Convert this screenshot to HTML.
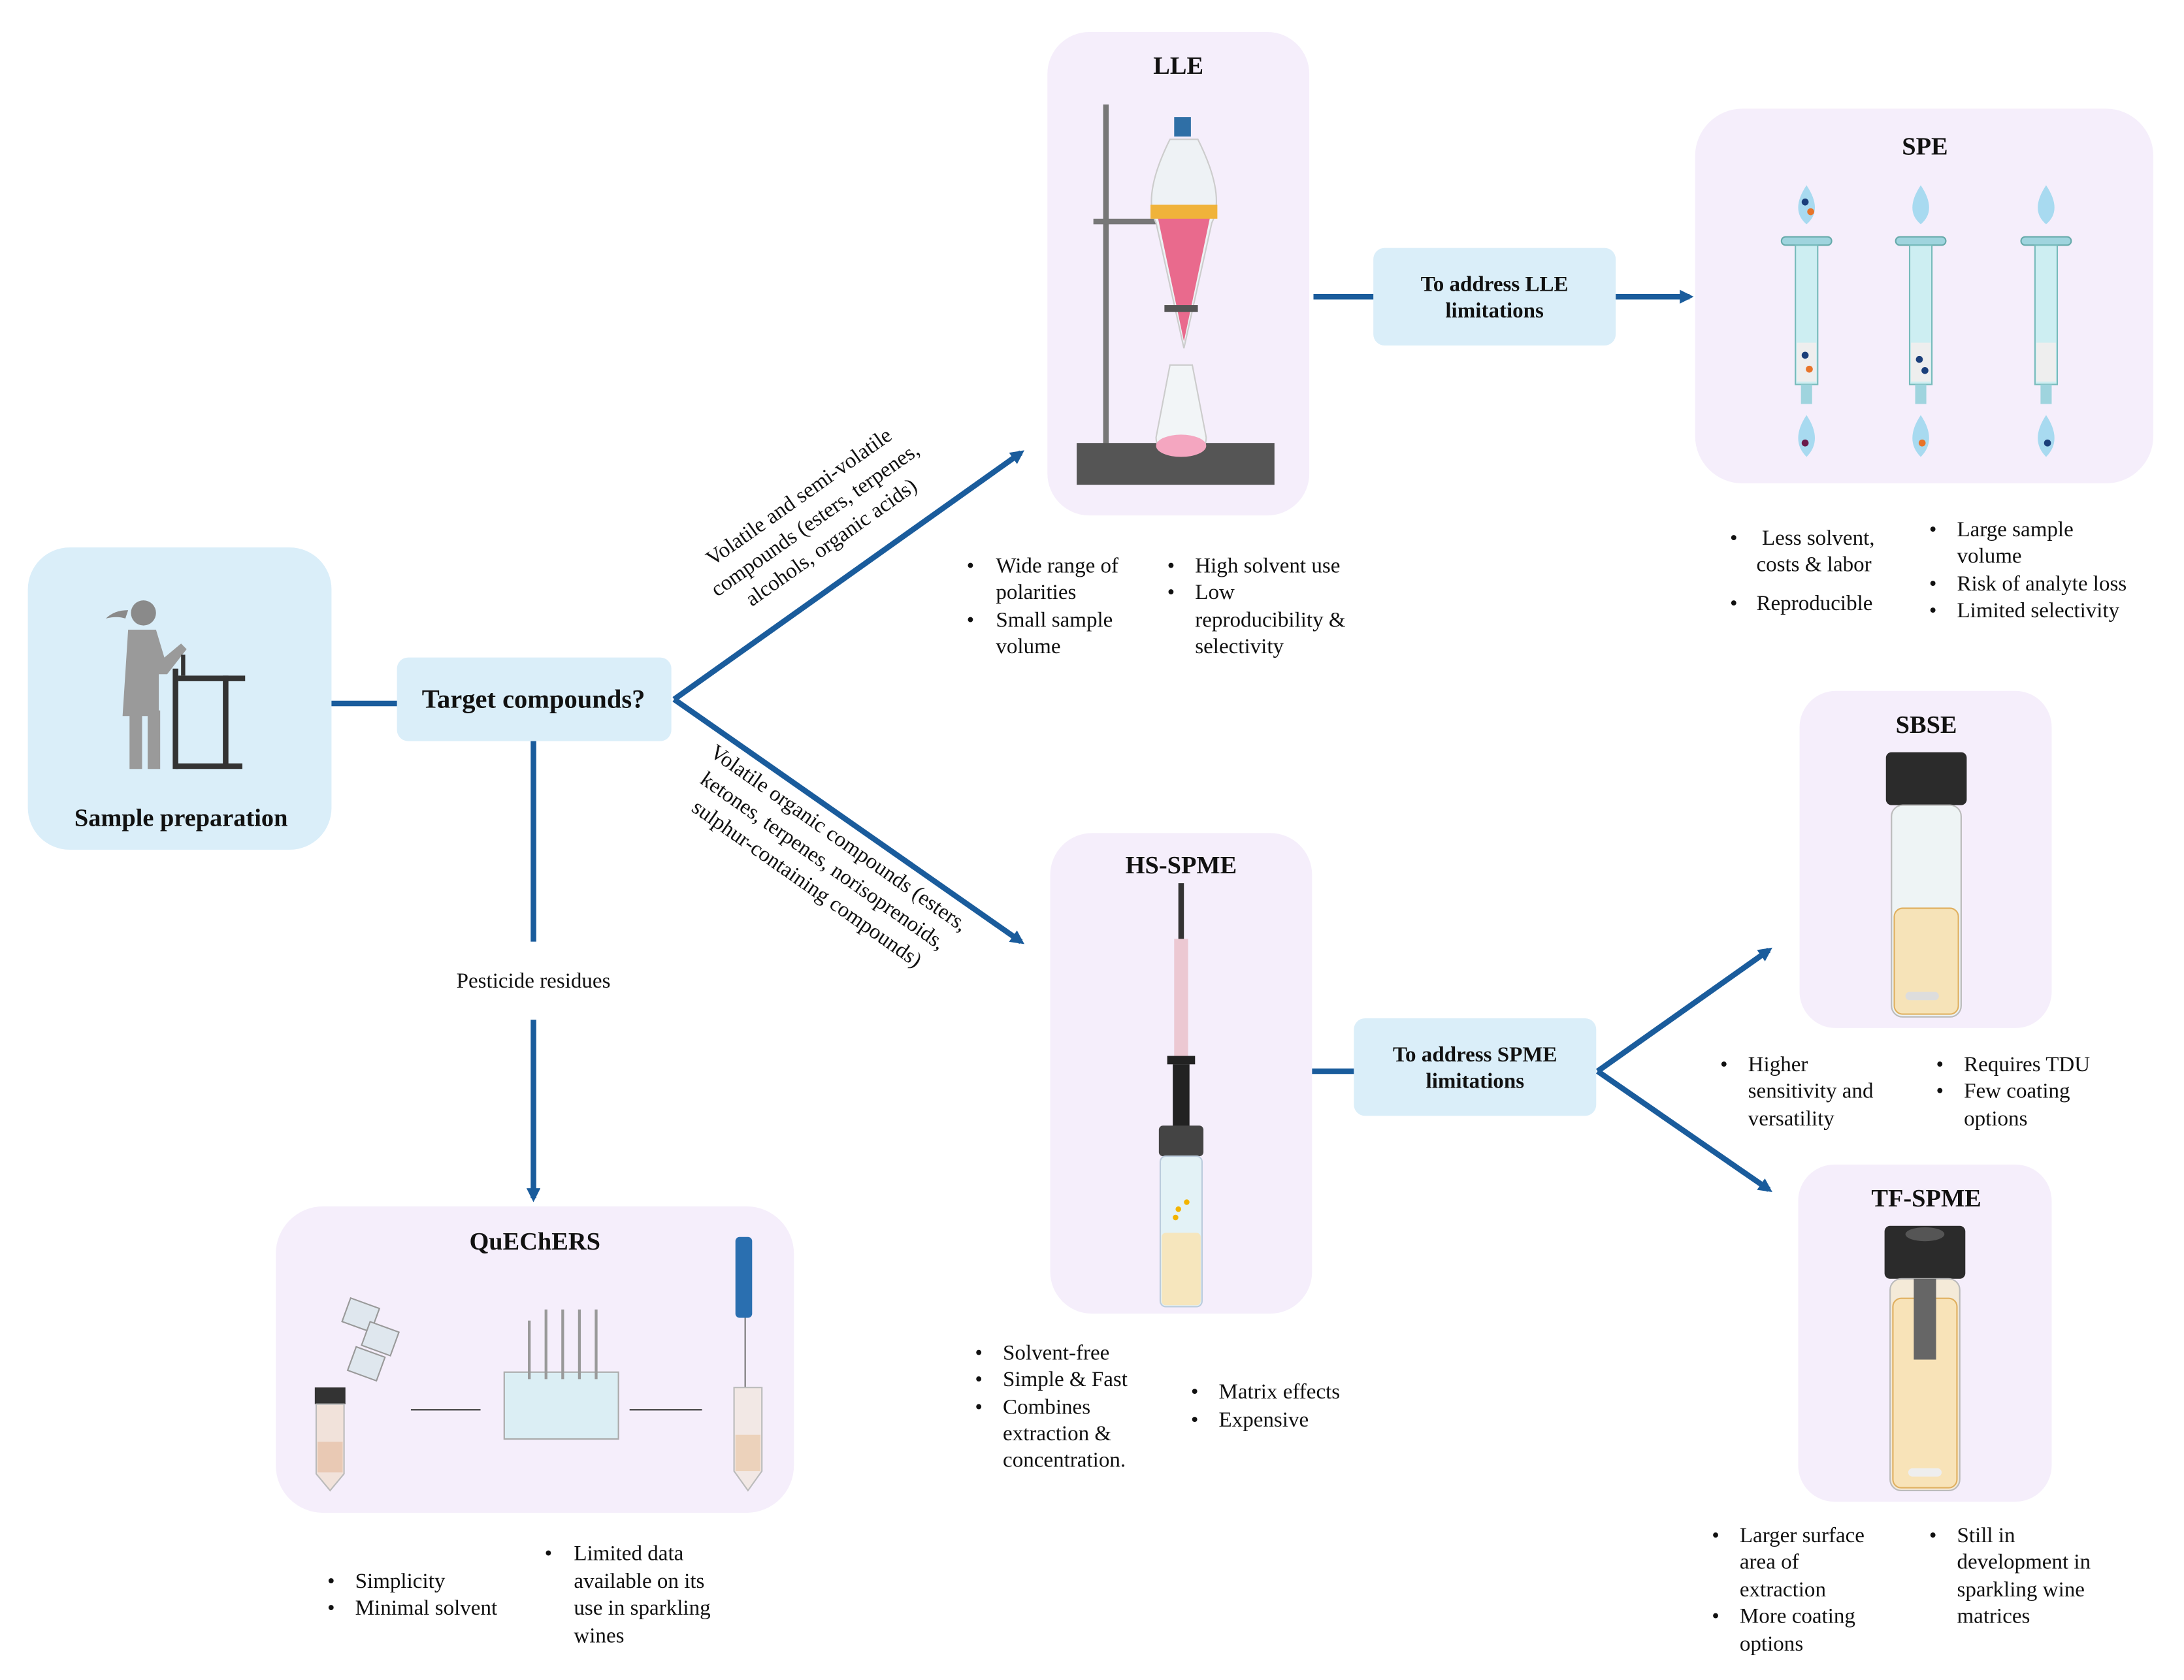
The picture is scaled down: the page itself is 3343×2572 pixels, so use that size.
<!DOCTYPE html>
<html><head><meta charset="utf-8"><style>
html,body{margin:0;padding:0;background:#fff}
svg{display:block}
text{font-family:"Liberation Serif",serif;fill:#111}
.b{font-weight:bold}
.t{font-size:15.5px}
</style></head><body>
<svg width="3343" height="2572" viewBox="0 0 1568 1206" preserveAspectRatio="none" xmlns="http://www.w3.org/2000/svg">
<defs>
<marker id="ar" markerWidth="10" markerHeight="10" refX="7" refY="5" orient="auto" markerUnits="userSpaceOnUse">
<path d="M0,0 L10,5 L0,10 z" fill="#1a5c9c"/></marker>
</defs>
<rect width="1600" height="1230" fill="#fff"/>
<rect x="20" y="393" width="218" height="217" rx="30" fill="#daeef9"/>
<rect x="285" y="472" width="197" height="60" rx="8" fill="#daeef9"/>
<rect x="752" y="23" width="188" height="347" rx="30" fill="#f5eefb"/>
<rect x="986" y="178" width="174" height="70" rx="8" fill="#daeef9"/>
<rect x="1217" y="78" width="329" height="269" rx="34" fill="#f5eefb"/>
<rect x="754" y="598" width="188" height="345" rx="30" fill="#f5eefb"/>
<rect x="972" y="731" width="174" height="70" rx="8" fill="#daeef9"/>
<rect x="1292" y="496" width="181" height="242" rx="26" fill="#f5eefb"/>
<rect x="1291" y="836" width="182" height="242" rx="26" fill="#f5eefb"/>
<rect x="198" y="866" width="372" height="220" rx="34" fill="#f5eefb"/>
<g stroke="#1a5c9c" stroke-width="4" fill="none">
<line x1="238" y1="505" x2="285" y2="505"/>
<line x1="484" y1="502" x2="733" y2="325" marker-end="url(#ar)"/>
<line x1="484" y1="502" x2="733" y2="676" marker-end="url(#ar)"/>
<line x1="383" y1="532" x2="383" y2="676"/>
<line x1="383" y1="732" x2="383" y2="860" marker-end="url(#ar)"/>
<line x1="943" y1="213" x2="986" y2="213"/>
<line x1="1160" y1="213" x2="1213" y2="213" marker-end="url(#ar)"/>
<line x1="942" y1="769" x2="972" y2="769"/>
<line x1="1147" y1="769" x2="1270" y2="682" marker-end="url(#ar)"/>
<line x1="1147" y1="769" x2="1270" y2="854" marker-end="url(#ar)"/>
</g>
<g class="b" font-size="18" text-anchor="middle">
<text x="130" y="593">Sample preparation</text>
<text x="383" y="508" font-size="19">Target compounds?</text>
<text x="846" y="53">LLE</text>
<text x="1382" y="111">SPE</text>
<text x="848" y="627">HS-SPME</text>
<text x="1383" y="526">SBSE</text>
<text x="1383" y="866">TF-SPME</text>
<text x="384" y="897">QuEChERS</text>
<text x="1073" y="209" font-size="15.5">To address LLE</text>
<text x="1073" y="228" font-size="15.5">limitations</text>
<text x="1059" y="762" font-size="15.5">To address SPME</text>
<text x="1059" y="781" font-size="15.5">limitations</text>
</g>
<text x="383" y="709" class="t" text-anchor="middle">Pesticide residues</text>
<g transform="translate(588,377) rotate(-35.3)" text-anchor="middle" class="t">
<text x="0" y="-20">Volatile and semi-volatile</text>
<text x="0" y="0">compounds (esters, terpenes,</text>
<text x="0" y="20">alcohols, organic acids)</text>
</g>
<g transform="translate(588,622) rotate(35)" text-anchor="middle" class="t">
<text x="0" y="-20">Volatile organic compounds (esters,</text>
<text x="0" y="0">ketones, terpenes, norisoprenoids,</text>
<text x="0" y="20">sulphur-containing compounds)</text>
</g>
<g class="t">
<text x="694" y="411">•</text><text x="715" y="411">Wide range of</text><text x="715" y="430">polarities</text>
<text x="694" y="450">•</text><text x="715" y="450">Small sample</text><text x="715" y="469">volume</text>
<text x="838" y="411">•</text><text x="858" y="411">High solvent use</text>
<text x="838" y="430">•</text><text x="858" y="430">Low</text><text x="858" y="450">reproducibility &amp;</text><text x="858" y="469">selectivity</text>
<text x="1242" y="391">•</text><text x="1265" y="391">Less solvent,</text><text x="1261" y="410">costs &amp; labor</text>
<text x="1242" y="438">•</text><text x="1261" y="438">Reproducible</text>
<text x="1385" y="385">•</text><text x="1405" y="385">Large sample</text><text x="1405" y="404">volume</text>
<text x="1385" y="424">•</text><text x="1405" y="424">Risk of analyte loss</text>
<text x="1385" y="443">•</text><text x="1405" y="443">Limited selectivity</text>
<text x="1235" y="769">•</text><text x="1255" y="769">Higher</text><text x="1255" y="788">sensitivity and</text><text x="1255" y="808">versatility</text>
<text x="1390" y="769">•</text><text x="1410" y="769">Requires TDU</text>
<text x="1390" y="788">•</text><text x="1410" y="788">Few coating</text><text x="1410" y="808">options</text>
<text x="1229" y="1107">•</text><text x="1249" y="1107">Larger surface</text><text x="1249" y="1126">area of</text><text x="1249" y="1146">extraction</text>
<text x="1229" y="1165">•</text><text x="1249" y="1165">More coating</text><text x="1249" y="1185">options</text>
<text x="1385" y="1107">•</text><text x="1405" y="1107">Still in</text><text x="1405" y="1126">development in</text><text x="1405" y="1146">sparkling wine</text><text x="1405" y="1165">matrices</text>
<text x="700" y="976">•</text><text x="720" y="976">Solvent-free</text>
<text x="700" y="995">•</text><text x="720" y="995">Simple &amp; Fast</text>
<text x="700" y="1015">•</text><text x="720" y="1015">Combines</text><text x="720" y="1034">extraction &amp;</text><text x="720" y="1053">concentration.</text>
<text x="855" y="1004">•</text><text x="875" y="1004">Matrix effects</text>
<text x="855" y="1024">•</text><text x="875" y="1024">Expensive</text>
<text x="235" y="1140">•</text><text x="255" y="1140">Simplicity</text>
<text x="235" y="1159">•</text><text x="255" y="1159">Minimal solvent</text>
<text x="391" y="1120">•</text><text x="412" y="1120">Limited data</text><text x="412" y="1140">available on its</text><text x="412" y="1159">use in sparkling</text><text x="412" y="1179">wines</text>
</g>
<g>
<circle cx="103" cy="440" r="9" fill="#8a8a8a"/>
<path d="M92,438 q-10,0 -16,6 q8,-2 14,0z" fill="#8a8a8a"/>
<path d="M92,452 h20 l6,20 l12,-10 l4,4 l-14,18 l-6,0 l0,30 h-26 z" fill="#9a9a9a"/>
<rect x="93" y="510" width="9" height="42" fill="#9a9a9a"/><rect x="106" y="510" width="9" height="42" fill="#9a9a9a"/>
<rect x="128" y="485" width="48" height="4" fill="#333"/>
<rect x="160" y="485" width="4" height="65" fill="#333"/>
<rect x="126" y="548" width="48" height="4" fill="#333"/>
<rect x="124" y="480" width="4" height="72" fill="#333"/>
<rect x="130" y="470" width="3" height="15" fill="#333"/>
</g>
<g>
<rect x="792" y="75" width="4" height="245" fill="#777"/>
<rect x="773" y="318" width="142" height="30" fill="#555"/>
<rect x="785" y="157" width="80" height="4" fill="#777"/>
<path d="M840,100 q-20,40 -10,60 l20,90 l20,-90 q10,-20 -10,-60z" fill="#eef2f5" stroke="#ccc"/>
<path d="M830,150 h40 l-20,95z" fill="#e96a8d"/>
<rect x="826" y="147" width="48" height="10" fill="#f0b33a"/>
<rect x="843" y="84" width="12" height="14" fill="#2f6fa6"/>
<rect x="836" y="219" width="24" height="5" fill="#555"/>
<path d="M840,262 l-10,52 q0,12 18,12 q18,0 18,-12 l-10,-52z" fill="#f2f5f7" stroke="#ccc"/>
<ellipse cx="848" cy="320" rx="18" ry="8" fill="#f4a6c0"/>
</g>
<g>
<g id="c1">
<path d="M1297,133 q-12,18 0,28 q12,-10 0,-28z" fill="#a8daf0"/>
<rect x="1279" y="170" width="36" height="6" rx="3" fill="#9fd4de" stroke="#6aa"/>
<rect x="1289" y="176" width="16" height="100" fill="#cdeef2" stroke="#7bb"/>
<rect x="1290" y="246" width="14" height="28" fill="#eee"/>
<rect x="1293" y="276" width="8" height="14" fill="#9fd4de"/>
<path d="M1297,298 q-12,18 0,30 q12,-12 0,-30z" fill="#a8daf0"/>
</g>
<use href="#c1" x="82"/><use href="#c1" x="172"/>
<circle cx="1296" cy="145" r="2.5" fill="#1b3f7a"/><circle cx="1300" cy="152" r="2.5" fill="#e8742a"/>
<circle cx="1296" cy="255" r="2.5" fill="#1b3f7a"/><circle cx="1299" cy="265" r="2.5" fill="#e8742a"/>
<circle cx="1378" cy="258" r="2.5" fill="#1b3f7a"/><circle cx="1382" cy="266" r="2.5" fill="#1b3f7a"/>
<circle cx="1296" cy="318" r="2.5" fill="#6a1a4a"/><circle cx="1380" cy="318" r="2.5" fill="#e8742a"/><circle cx="1470" cy="318" r="2.5" fill="#1b3f7a"/>
</g>
<g>
<rect x="846" y="634" width="4" height="40" fill="#333"/>
<rect x="843" y="674" width="10" height="86" fill="#ecc8d2"/>
<rect x="838" y="758" width="20" height="6" fill="#222"/>
<rect x="842" y="764" width="12" height="46" fill="#222"/>
<rect x="832" y="808" width="32" height="22" rx="3" fill="#444"/>
<rect x="833" y="830" width="30" height="108" rx="4" fill="#e3f2f6" stroke="#bcd"/>
<rect x="834" y="885" width="28" height="52" rx="3" fill="#f6e6bd"/>
<circle cx="846" cy="868" r="2" fill="#f3b400"/><circle cx="852" cy="863" r="2" fill="#f3b400"/><circle cx="844" cy="874" r="2" fill="#f3b400"/>
</g>
<g>
<rect x="1354" y="540" width="58" height="38" rx="4" fill="#2b2b2b"/>
<rect x="1358" y="578" width="50" height="152" rx="8" fill="#eef4f5" stroke="#bbb"/>
<rect x="1360" y="652" width="46" height="76" rx="6" fill="#f6e3b8" stroke="#e0b060"/>
<rect x="1368" y="712" width="24" height="6" rx="3" fill="#ddd"/>
</g>
<g>
<rect x="1353" y="880" width="58" height="38" rx="4" fill="#2b2b2b"/>
<ellipse cx="1382" cy="886" rx="14" ry="5" fill="#555"/>
<rect x="1357" y="918" width="50" height="152" rx="8" fill="#f4ead8" stroke="#bbb"/>
<rect x="1359" y="932" width="46" height="136" rx="6" fill="#f8e3b8" stroke="#e0b060"/>
<rect x="1374" y="918" width="16" height="58" fill="#666"/>
<rect x="1370" y="1054" width="24" height="6" rx="3" fill="#eee"/>
</g>
<g>
<rect x="226" y="996" width="22" height="12" fill="#333"/>
<path d="M227,1008 h20 v50 l-10,12 l-10,-12z" fill="#f1e2da" stroke="#bbb"/>
<rect x="228" y="1035" width="18" height="22" fill="#e9c9b4"/>
<rect x="248" y="935" width="22" height="18" fill="#dfe7ee" stroke="#999" transform="rotate(20 259 944)"/>
<rect x="262" y="952" width="22" height="18" fill="#dfe7ee" stroke="#999" transform="rotate(20 273 961)"/>
<rect x="252" y="970" width="22" height="18" fill="#dfe7ee" stroke="#999" transform="rotate(20 263 979)"/>
<line x1="295" y1="1012" x2="345" y2="1012" stroke="#333"/>
<rect x="362" y="985" width="82" height="48" fill="#dbeef4" stroke="#aaa"/>
<g stroke="#999" stroke-width="2"><line x1="380" y1="948" x2="380" y2="990"/><line x1="392" y1="940" x2="392" y2="990"/><line x1="404" y1="940" x2="404" y2="990"/><line x1="416" y1="940" x2="416" y2="990"/><line x1="428" y1="940" x2="428" y2="990"/></g>
<line x1="452" y1="1012" x2="504" y2="1012" stroke="#333"/>
<rect x="528" y="888" width="12" height="58" rx="3" fill="#2a6fb0"/>
<line x1="535" y1="946" x2="535" y2="1000" stroke="#777"/>
<path d="M527,996 h20 v60 l-10,14 l-10,-14z" fill="#f2e8e5" stroke="#bbb"/>
<rect x="528" y="1030" width="18" height="26" fill="#ecd2bb"/>
</g>
</svg>
</body></html>
